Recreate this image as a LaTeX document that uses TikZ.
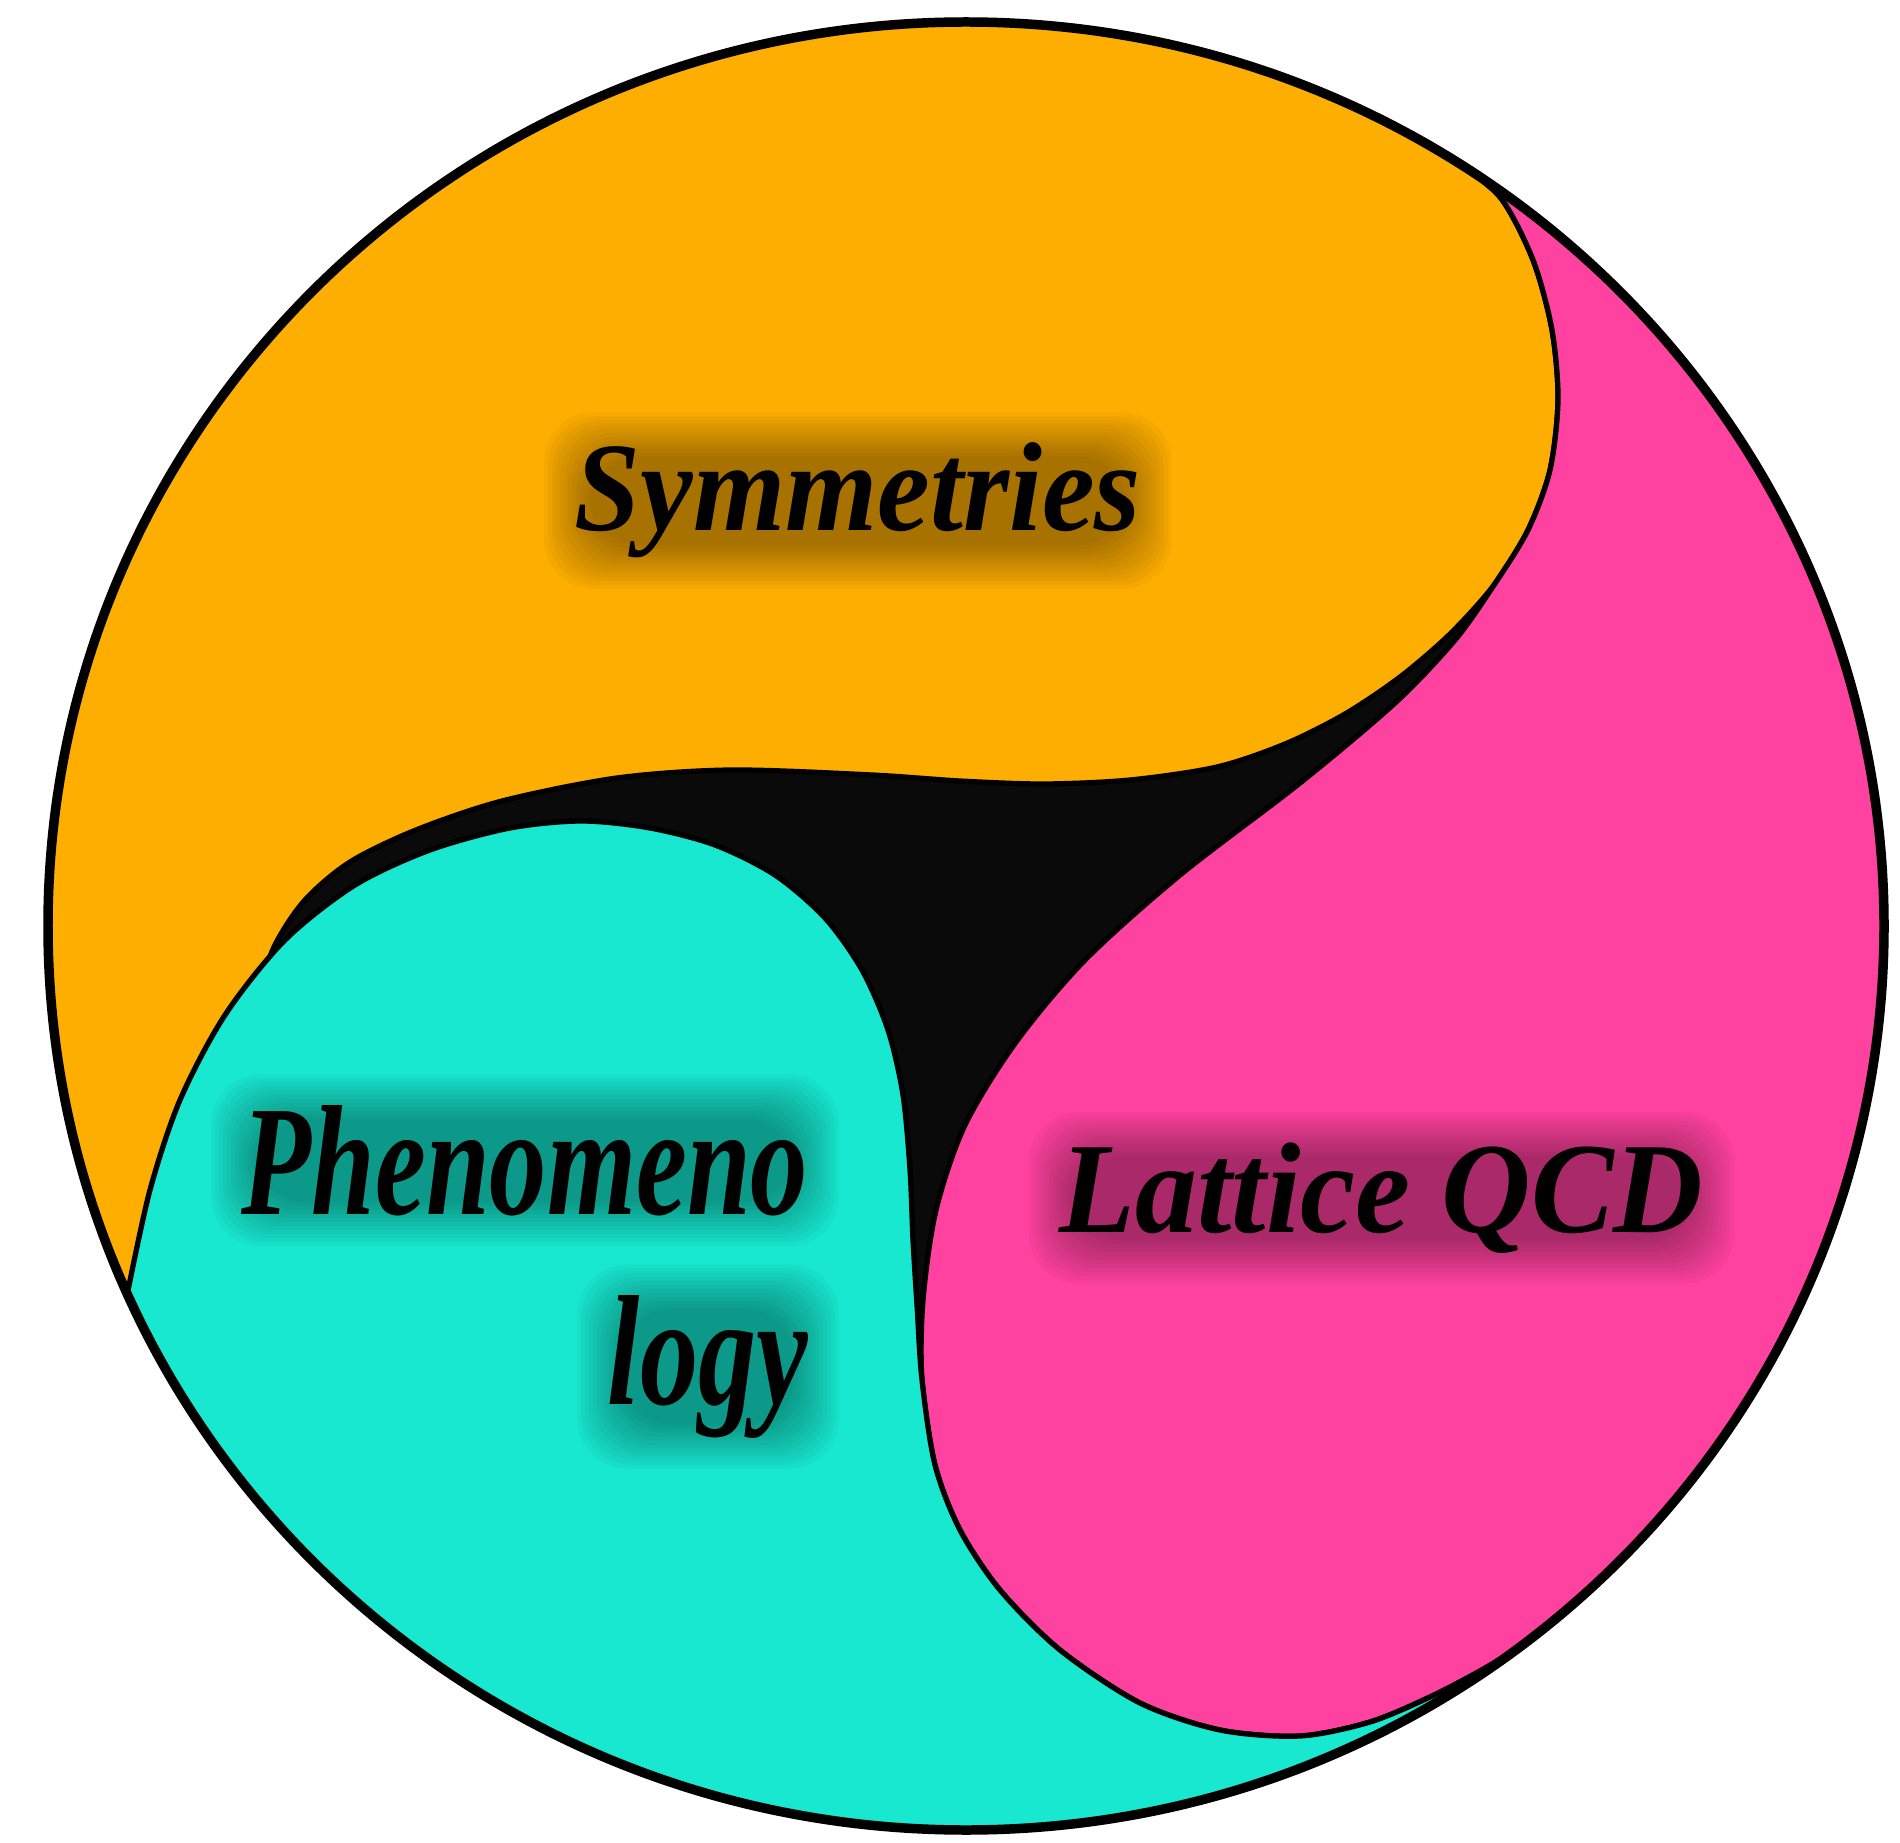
\documentclass[tikz,border=0pt]{standalone}
\usepackage{fontspec}
\setmainfont{Liberation Serif}
\usepackage{graphicx}
\usetikzlibrary{calc}
\definecolor{orangeC}{HTML}{FDAE00}
\definecolor{pinkC}{HTML}{FF42A0}
\definecolor{cyanC}{HTML}{18E8D0}
\definecolor{coreC}{HTML}{0A0A0A}
\newcommand\glowbox[1]{%
  \foreach \d in {-14,-10,...,30} {%
    \fill[black,opacity=0.03,rounded corners=5mm]
      ([shift={(-\d,\d)}]#1.south west) rectangle ([shift={(\d,-\d)}]#1.north east);}}
\begin{document}
\begin{tikzpicture}[x=0.01cm,y=-0.01cm,
  region/.style={draw=black,line width=1.5pt,line join=round},
  rim/.style={draw=black,line width=2.7pt},
  lbl/.style={inner sep=0pt,font=\bfseries\itshape},
]
\useasboundingbox (0,0) rectangle (1900,1843);
\coordinate (O) at (966,926);
\coordinate (A) at ($(O)+(302:918 and 904)$);
\coordinate (B) at ($(O)+(53:918 and 904)$);
\coordinate (C) at ($(O)+(156:918 and 904)$);
\fill[coreC] (O) ellipse[x radius=918,y radius=904];
% orange (Symmetries); its tail edge is finished by the cyan region drawn later
\path[region,fill=orangeC] (C) arc[start angle=156,end angle=302,x radius=918,y radius=904]
  -- plot[smooth] coordinates {(A) (1500,197) (1533,260) (1552,330) (1558,400) (1550,470) (1528,530) (1494,585) (1450,634) (1400,677) (1345,714) (1285,744) (1217,767) (1130,780) (1044,784) (960,781) (872,775) (731,770) (617,778) (502,801) (416,830) (350,862) (305,900) (275,945) (255,1000) (225,1080) (175,1200) (C)} -- cycle;
% pink (Lattice QCD)
\path[region,fill=pinkC] (A) arc[start angle=-58,end angle=53,x radius=918,y radius=904]
  -- plot[smooth] coordinates {(B) (1480,1671) (1430,1697) (1370,1722) (1300,1736) (1220,1730) (1140,1703) (1060,1650) (1000,1590) (960,1530) (935,1465) (922,1380) (923,1300) (936,1210) (965,1125) (1016,1042) (1085,960) (1180,875) (1300,783) (1395,703) (1455,640) (1494,585) (1528,530) (1550,470) (1558,400) (1552,330) (1533,260) (1500,197) (A)} -- cycle;
% cyan (Phenomenology)
\path[region,fill=cyanC] (B) arc[start angle=53,end angle=156,x radius=918,y radius=904]
  -- plot[smooth] coordinates {(C) (150,1190) (180,1100) (225,1015) (285,940) (355,885) (430,850) (510,828) (582,821) (650,828) (715,845) (775,875) (825,918) (862,970) (888,1030) (903,1095) (910,1170) (913,1240) (917,1305) (922,1380) (935,1465) (960,1530) (1000,1590) (1060,1650) (1140,1703) (1220,1730) (1300,1736) (1370,1722) (1430,1697) (1480,1671) (B)} -- cycle;
\draw[rim] (O) ellipse[x radius=918,y radius=904];
% labels
\node[lbl,anchor=base west] (sym) at (574,531) {\resizebox{161pt}{25pt}{Symmetries}};
\node[lbl,anchor=base west] (phen) at (241,1214) {\resizebox{161pt}{31pt}{Phenomeno}};
\node[lbl,anchor=base east] (logy) at (809,1404) {\resizebox{57pt}{31pt}{logy}};
\node[lbl,anchor=base west] (lqcd) at (1059,1232) {\resizebox{183pt}{25.5pt}{Lattice QCD}};
\glowbox{sym}
\glowbox{phen}
\glowbox{logy}
\glowbox{lqcd}
\end{tikzpicture}
\end{document}
